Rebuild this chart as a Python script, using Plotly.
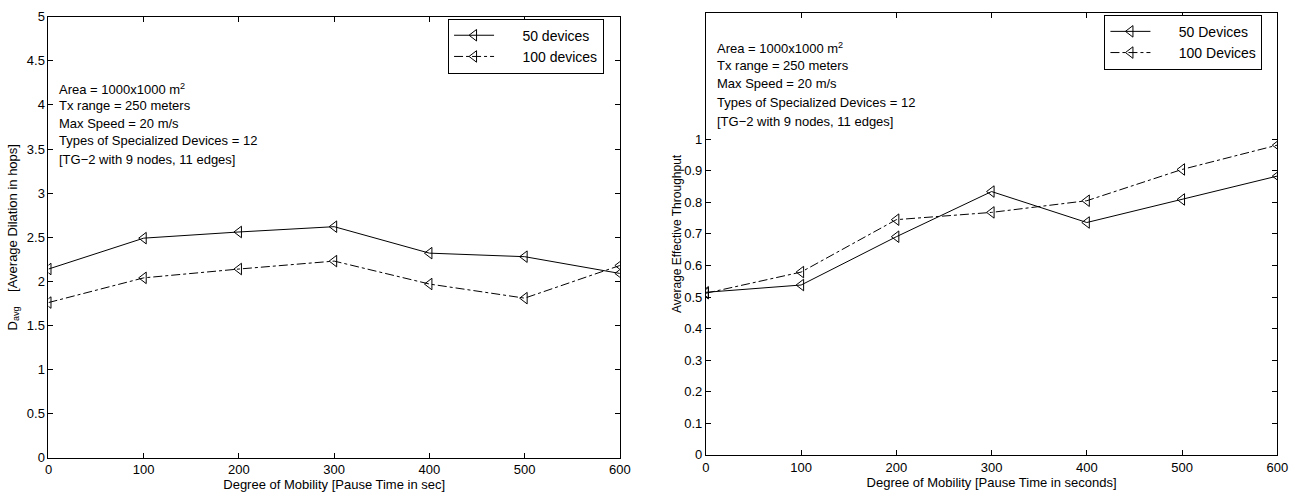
import plotly.graph_objects as go

pause_time = [0, 100, 200, 300, 400, 500, 600]
dil_50 = [2.14, 2.49, 2.56, 2.62, 2.32, 2.28, 2.09]
dil_100 = [1.76, 2.04, 2.14, 2.23, 1.97, 1.81, 2.18]
thr_50 = [0.515, 0.538, 0.691, 0.834, 0.736, 0.809, 0.883]
thr_100 = [0.512, 0.579, 0.745, 0.768, 0.805, 0.904, 0.981]

left_names = ["50 devices", "100 devices"]
right_names = ["50 Devices", "100 Devices"]
info_lines = ["Area = 1000x1000 m<sup>2</sup>", "Tx range = 250 meters", "Max Speed = 20 m/s",
              "Types of Specialized Devices = 12", "[TG\u22122 with 9 nodes, 11 edges]"]

W, H = 1312, 503
FONT = "Liberation Sans, Arial, sans-serif"
PAD = "\u00a0" * 6

def px(x):
    return x / W

def py(y):
    return 1 - y / H

fig = go.Figure()
mk = dict(symbol="triangle-left-open", size=10, color="black", line=dict(width=1, color="black"))

fig.add_trace(go.Scatter(x=pause_time, y=dil_50, mode="lines+markers", name=PAD + left_names[0],
                         line=dict(color="black", width=1), marker=mk, xaxis="x", yaxis="y", legend="legend"))
fig.add_trace(go.Scatter(x=pause_time, y=dil_100, mode="lines+markers", name=PAD + left_names[1],
                         line=dict(color="black", width=1, dash="dashdot"), marker=mk, xaxis="x", yaxis="y", legend="legend"))
fig.add_trace(go.Scatter(x=pause_time, y=thr_50, mode="lines+markers", name=PAD + right_names[0],
                         line=dict(color="black", width=1), marker=mk, xaxis="x2", yaxis="y2", legend="legend2"))
fig.add_trace(go.Scatter(x=pause_time, y=thr_100, mode="lines+markers", name=PAD + right_names[1],
                         line=dict(color="black", width=1, dash="dashdot"), marker=mk, xaxis="x2", yaxis="y2", legend="legend2"))

axis_common = dict(showline=True, linecolor="black", linewidth=1, mirror="ticks", ticks="inside",
                   ticklen=5, tickcolor="black", showgrid=False, zeroline=False,
                   tickfont=dict(family=FONT, size=13, color="black"))

xvals = [0, 100, 200, 300, 400, 500, 600]
fig.update_layout(
    width=W, height=H, margin=dict(l=0, r=0, t=0, b=0),
    paper_bgcolor="white", plot_bgcolor="white",
    font=dict(family=FONT, size=13, color="black"),
    xaxis=dict(domain=[px(45), px(623)], range=[0, 600], tickvals=xvals, anchor="y",
               title=dict(text="Degree of Mobility [Pause Time in sec]", standoff=2,
                          font=dict(family=FONT, size=13)), **axis_common),
    yaxis=dict(domain=[py(464.7), py(10)], range=[0, 5], tickvals=[i * 0.5 for i in range(11)],
               ticktext=["0", "0.5", "1", "1.5", "2", "2.5", "3", "3.5", "4", "4.5", "5"], anchor="x",
               title=dict(text="D<sub>avg</sub>    [Average Dilation in hops]", standoff=6,
                          font=dict(family=FONT, size=13)), **axis_common),
    xaxis2=dict(domain=[px(710), px(1288)], range=[0, 600], tickvals=xvals, anchor="y2",
                title=dict(text="Degree of Mobility [Pause Time in seconds]", standoff=2,
                           font=dict(family=FONT, size=13)), **axis_common),
    yaxis2=dict(domain=[py(461.7), py(6)], range=[0, 1.4], tickvals=[i / 10 for i in range(11)],
                ticktext=["0", "0.1", "0.2", "0.3", "0.4", "0.5", "0.6", "0.7", "0.8", "0.9", "1"], anchor="x2",
                title=dict(text="Average Effective Throughput", standoff=0,
                           font=dict(family=FONT, size=12)), **axis_common),
    legend=dict(x=px(607), y=py(12), xanchor="right", yanchor="top", bgcolor="white",
                bordercolor="black", borderwidth=1, font=dict(family=FONT, size=14),
                tracegroupgap=0, itemwidth=40),
    legend2=dict(x=px(1273), y=py(8), xanchor="right", yanchor="top", bgcolor="white",
                 bordercolor="black", borderwidth=1, font=dict(family=FONT, size=14),
                 tracegroupgap=0, itemwidth=40),
)

left_y = [85, 102, 120, 138, 157]
right_y = [42, 60, 79, 98, 118]
for t, yy in zip(info_lines, left_y):
    fig.add_annotation(text=t, x=px(54), y=py(yy), xref="paper", yref="paper", xanchor="left",
                       yanchor="middle", showarrow=False, font=dict(family=FONT, size=13, color="black"))
for t, yy in zip(info_lines, right_y):
    fig.add_annotation(text=t, x=px(719), y=py(yy), xref="paper", yref="paper", xanchor="left",
                       yanchor="middle", showarrow=False, font=dict(family=FONT, size=13, color="black"))

fig.write_html("out.html")
